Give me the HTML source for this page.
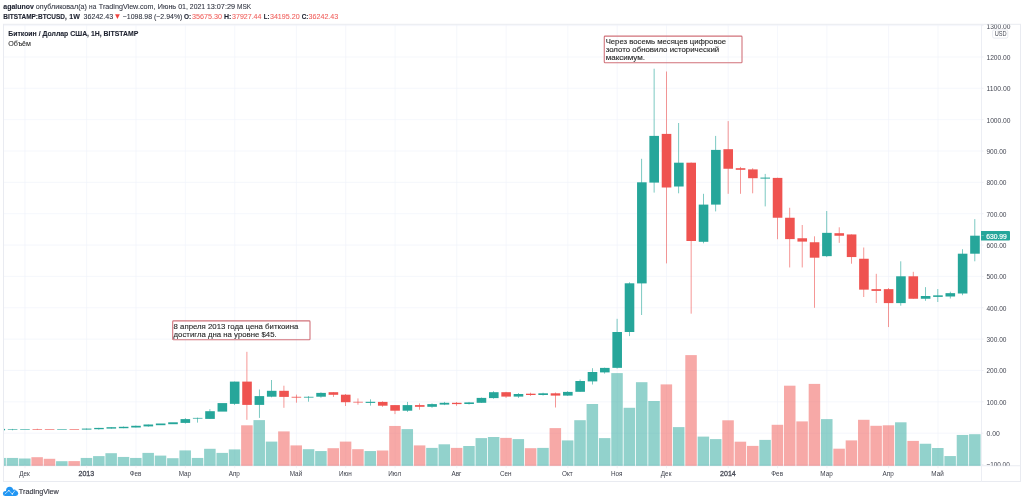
<!DOCTYPE html>
<html lang="ru"><head><meta charset="utf-8"><title>BTCUSD</title>
<style>html,body{margin:0;padding:0;background:#fff;}body{width:1024px;height:502px;overflow:hidden;}svg{display:block;font-family:"Liberation Sans",sans-serif;}</style></head><body>
<svg width="1024" height="502" viewBox="0 0 1024 502">
<defs><clipPath id="pane"><rect x="3.80" y="24.30" width="977.70" height="441.65"/></clipPath>
<clipPath id="axis"><rect x="981.50" y="24.60" width="39.00" height="441.15"/></clipPath></defs>
<rect width="1024" height="502" fill="#fff"/>
<g stroke="#f0f3fa" stroke-width="0.68" fill="none">
<line x1="3.50" y1="464.51" x2="981.50" y2="464.51"/>
<line x1="3.50" y1="433.16" x2="981.50" y2="433.16"/>
<line x1="3.50" y1="401.81" x2="981.50" y2="401.81"/>
<line x1="3.50" y1="370.46" x2="981.50" y2="370.46"/>
<line x1="3.50" y1="339.11" x2="981.50" y2="339.11"/>
<line x1="3.50" y1="307.76" x2="981.50" y2="307.76"/>
<line x1="3.50" y1="276.41" x2="981.50" y2="276.41"/>
<line x1="3.50" y1="245.06" x2="981.50" y2="245.06"/>
<line x1="3.50" y1="213.71" x2="981.50" y2="213.71"/>
<line x1="3.50" y1="182.36" x2="981.50" y2="182.36"/>
<line x1="3.50" y1="151.01" x2="981.50" y2="151.01"/>
<line x1="3.50" y1="119.66" x2="981.50" y2="119.66"/>
<line x1="3.50" y1="88.31" x2="981.50" y2="88.31"/>
<line x1="3.50" y1="56.96" x2="981.50" y2="56.96"/>
<line x1="3.50" y1="25.61" x2="981.50" y2="25.61"/>
<line x1="24.95" y1="24.30" x2="24.95" y2="465.75"/>
<line x1="86.64" y1="24.30" x2="86.64" y2="465.75"/>
<line x1="135.99" y1="24.30" x2="135.99" y2="465.75"/>
<line x1="185.34" y1="24.30" x2="185.34" y2="465.75"/>
<line x1="234.69" y1="24.30" x2="234.69" y2="465.75"/>
<line x1="296.38" y1="24.30" x2="296.38" y2="465.75"/>
<line x1="345.73" y1="24.30" x2="345.73" y2="465.75"/>
<line x1="395.09" y1="24.30" x2="395.09" y2="465.75"/>
<line x1="456.78" y1="24.30" x2="456.78" y2="465.75"/>
<line x1="506.13" y1="24.30" x2="506.13" y2="465.75"/>
<line x1="567.82" y1="24.30" x2="567.82" y2="465.75"/>
<line x1="617.17" y1="24.30" x2="617.17" y2="465.75"/>
<line x1="666.52" y1="24.30" x2="666.52" y2="465.75"/>
<line x1="728.21" y1="24.30" x2="728.21" y2="465.75"/>
<line x1="777.56" y1="24.30" x2="777.56" y2="465.75"/>
<line x1="826.92" y1="24.30" x2="826.92" y2="465.75"/>
<line x1="888.61" y1="24.30" x2="888.61" y2="465.75"/>
<line x1="937.96" y1="24.30" x2="937.96" y2="465.75"/>
</g>
<line x1="3.50" y1="465.75" x2="1020.50" y2="465.75" stroke="#e9ebf1" stroke-width="1"/>
<g clip-path="url(#pane)" fill-opacity="0.5">
<rect x="-5.63" y="457.95" width="11.5" height="7.85" fill="#26a69a"/>
<rect x="6.71" y="457.95" width="11.5" height="7.85" fill="#26a69a"/>
<rect x="19.05" y="458.50" width="11.5" height="7.30" fill="#26a69a"/>
<rect x="31.38" y="457.20" width="11.5" height="8.60" fill="#ef5350"/>
<rect x="43.72" y="458.80" width="11.5" height="7.00" fill="#ef5350"/>
<rect x="56.06" y="461.20" width="11.5" height="4.60" fill="#26a69a"/>
<rect x="68.40" y="461.10" width="11.5" height="4.70" fill="#ef5350"/>
<rect x="80.74" y="457.95" width="11.5" height="7.85" fill="#26a69a"/>
<rect x="93.07" y="456.10" width="11.5" height="9.70" fill="#26a69a"/>
<rect x="105.41" y="453.20" width="11.5" height="12.60" fill="#26a69a"/>
<rect x="117.75" y="456.95" width="11.5" height="8.85" fill="#26a69a"/>
<rect x="130.09" y="457.95" width="11.5" height="7.85" fill="#26a69a"/>
<rect x="142.43" y="452.90" width="11.5" height="12.90" fill="#26a69a"/>
<rect x="154.76" y="455.60" width="11.5" height="10.20" fill="#26a69a"/>
<rect x="167.10" y="458.20" width="11.5" height="7.60" fill="#26a69a"/>
<rect x="179.44" y="450.40" width="11.5" height="15.40" fill="#26a69a"/>
<rect x="191.78" y="457.95" width="11.5" height="7.85" fill="#26a69a"/>
<rect x="204.12" y="448.80" width="11.5" height="17.00" fill="#26a69a"/>
<rect x="216.45" y="452.90" width="11.5" height="12.90" fill="#26a69a"/>
<rect x="228.79" y="449.40" width="11.5" height="16.40" fill="#26a69a"/>
<rect x="241.13" y="425.30" width="11.5" height="40.50" fill="#ef5350"/>
<rect x="253.47" y="420.10" width="11.5" height="45.70" fill="#26a69a"/>
<rect x="265.81" y="441.60" width="11.5" height="24.20" fill="#26a69a"/>
<rect x="278.14" y="431.40" width="11.5" height="34.40" fill="#ef5350"/>
<rect x="290.48" y="445.40" width="11.5" height="20.40" fill="#ef5350"/>
<rect x="302.82" y="449.20" width="11.5" height="16.60" fill="#26a69a"/>
<rect x="315.16" y="451.05" width="11.5" height="14.75" fill="#26a69a"/>
<rect x="327.50" y="448.20" width="11.5" height="17.60" fill="#ef5350"/>
<rect x="339.83" y="441.60" width="11.5" height="24.20" fill="#ef5350"/>
<rect x="352.17" y="449.20" width="11.5" height="16.60" fill="#ef5350"/>
<rect x="364.51" y="451.05" width="11.5" height="14.75" fill="#26a69a"/>
<rect x="376.85" y="450.50" width="11.5" height="15.30" fill="#ef5350"/>
<rect x="389.19" y="425.96" width="11.5" height="39.84" fill="#ef5350"/>
<rect x="401.52" y="429.10" width="11.5" height="36.70" fill="#26a69a"/>
<rect x="413.86" y="445.40" width="11.5" height="20.40" fill="#ef5350"/>
<rect x="426.20" y="447.90" width="11.5" height="17.90" fill="#26a69a"/>
<rect x="438.54" y="444.30" width="11.5" height="21.50" fill="#26a69a"/>
<rect x="450.88" y="447.90" width="11.5" height="17.90" fill="#ef5350"/>
<rect x="463.21" y="446.00" width="11.5" height="19.80" fill="#26a69a"/>
<rect x="475.55" y="438.10" width="11.5" height="27.70" fill="#26a69a"/>
<rect x="487.89" y="437.00" width="11.5" height="28.80" fill="#26a69a"/>
<rect x="500.23" y="437.90" width="11.5" height="27.90" fill="#ef5350"/>
<rect x="512.57" y="439.10" width="11.5" height="26.70" fill="#26a69a"/>
<rect x="524.90" y="448.20" width="11.5" height="17.60" fill="#ef5350"/>
<rect x="537.24" y="447.90" width="11.5" height="17.90" fill="#26a69a"/>
<rect x="549.58" y="428.10" width="11.5" height="37.70" fill="#ef5350"/>
<rect x="561.92" y="440.40" width="11.5" height="25.40" fill="#26a69a"/>
<rect x="574.26" y="420.20" width="11.5" height="45.60" fill="#26a69a"/>
<rect x="586.59" y="404.00" width="11.5" height="61.80" fill="#26a69a"/>
<rect x="598.93" y="438.10" width="11.5" height="27.70" fill="#26a69a"/>
<rect x="611.27" y="373.10" width="11.5" height="92.70" fill="#26a69a"/>
<rect x="623.61" y="407.80" width="11.5" height="58.00" fill="#26a69a"/>
<rect x="635.95" y="382.20" width="11.5" height="83.60" fill="#26a69a"/>
<rect x="648.28" y="401.00" width="11.5" height="64.80" fill="#26a69a"/>
<rect x="660.62" y="384.40" width="11.5" height="81.40" fill="#ef5350"/>
<rect x="672.96" y="427.10" width="11.5" height="38.70" fill="#26a69a"/>
<rect x="685.30" y="355.10" width="11.5" height="110.70" fill="#ef5350"/>
<rect x="697.64" y="436.60" width="11.5" height="29.20" fill="#26a69a"/>
<rect x="709.97" y="439.10" width="11.5" height="26.70" fill="#26a69a"/>
<rect x="722.31" y="420.30" width="11.5" height="45.50" fill="#ef5350"/>
<rect x="734.65" y="441.70" width="11.5" height="24.10" fill="#ef5350"/>
<rect x="746.99" y="445.90" width="11.5" height="19.90" fill="#ef5350"/>
<rect x="759.33" y="439.90" width="11.5" height="25.90" fill="#26a69a"/>
<rect x="771.66" y="424.80" width="11.5" height="41.00" fill="#ef5350"/>
<rect x="784.00" y="385.70" width="11.5" height="80.10" fill="#ef5350"/>
<rect x="796.34" y="421.40" width="11.5" height="44.40" fill="#ef5350"/>
<rect x="808.68" y="383.90" width="11.5" height="81.90" fill="#ef5350"/>
<rect x="821.02" y="419.10" width="11.5" height="46.70" fill="#26a69a"/>
<rect x="833.35" y="448.70" width="11.5" height="17.10" fill="#ef5350"/>
<rect x="845.69" y="440.40" width="11.5" height="25.40" fill="#ef5350"/>
<rect x="858.03" y="419.80" width="11.5" height="46.00" fill="#ef5350"/>
<rect x="870.37" y="425.80" width="11.5" height="40.00" fill="#ef5350"/>
<rect x="882.71" y="425.30" width="11.5" height="40.50" fill="#ef5350"/>
<rect x="895.04" y="422.30" width="11.5" height="43.50" fill="#26a69a"/>
<rect x="907.38" y="440.90" width="11.5" height="24.90" fill="#ef5350"/>
<rect x="919.72" y="443.75" width="11.5" height="22.05" fill="#26a69a"/>
<rect x="932.06" y="448.00" width="11.5" height="17.80" fill="#26a69a"/>
<rect x="944.40" y="456.05" width="11.5" height="9.75" fill="#26a69a"/>
<rect x="956.73" y="434.95" width="11.5" height="30.85" fill="#26a69a"/>
<rect x="969.07" y="434.20" width="11.5" height="31.60" fill="#26a69a"/>
</g>
<g clip-path="url(#pane)">
<rect x="-4.53" y="428.90" width="9.6" height="1.40" fill="#26a69a"/>
<rect x="12.21" y="428.90" width="0.6" height="1.40" fill="#26a69a"/>
<rect x="7.81" y="429.20" width="9.6" height="0.60" fill="#26a69a"/>
<rect x="20.15" y="429.10" width="9.6" height="0.60" fill="#26a69a"/>
<rect x="36.88" y="428.70" width="0.6" height="1.10" fill="#ef5350"/>
<rect x="32.48" y="429.10" width="9.6" height="0.60" fill="#ef5350"/>
<rect x="44.82" y="429.10" width="9.6" height="0.60" fill="#ef5350"/>
<rect x="57.16" y="429.10" width="9.6" height="0.60" fill="#26a69a"/>
<rect x="69.50" y="429.10" width="9.6" height="0.60" fill="#ef5350"/>
<rect x="86.24" y="428.50" width="0.6" height="1.10" fill="#26a69a"/>
<rect x="81.84" y="428.60" width="9.6" height="1.00" fill="#26a69a"/>
<rect x="98.57" y="427.80" width="0.6" height="1.90" fill="#26a69a"/>
<rect x="94.17" y="427.90" width="9.6" height="1.30" fill="#26a69a"/>
<rect x="110.91" y="427.00" width="0.6" height="1.70" fill="#26a69a"/>
<rect x="106.51" y="427.20" width="9.6" height="1.40" fill="#26a69a"/>
<rect x="123.25" y="426.50" width="0.6" height="1.70" fill="#26a69a"/>
<rect x="118.85" y="426.80" width="9.6" height="1.40" fill="#26a69a"/>
<rect x="135.59" y="425.50" width="0.6" height="2.00" fill="#26a69a"/>
<rect x="131.19" y="425.80" width="9.6" height="1.70" fill="#26a69a"/>
<rect x="147.93" y="424.50" width="0.6" height="2.20" fill="#26a69a"/>
<rect x="143.53" y="424.50" width="9.6" height="1.90" fill="#26a69a"/>
<rect x="155.86" y="423.50" width="9.6" height="1.70" fill="#26a69a"/>
<rect x="168.20" y="422.30" width="9.6" height="1.90" fill="#26a69a"/>
<rect x="184.94" y="418.10" width="0.6" height="5.50" fill="#26a69a"/>
<rect x="180.54" y="419.10" width="9.6" height="3.80" fill="#26a69a"/>
<rect x="197.28" y="417.60" width="0.6" height="5.00" fill="#26a69a"/>
<rect x="192.88" y="417.90" width="9.6" height="0.70" fill="#26a69a"/>
<rect x="209.62" y="409.10" width="0.6" height="9.80" fill="#26a69a"/>
<rect x="205.22" y="411.20" width="9.6" height="7.70" fill="#26a69a"/>
<rect x="217.55" y="403.10" width="9.6" height="8.50" fill="#26a69a"/>
<rect x="234.29" y="381.60" width="0.6" height="23.30" fill="#26a69a"/>
<rect x="229.89" y="381.60" width="9.6" height="22.25" fill="#26a69a"/>
<rect x="246.63" y="351.80" width="0.6" height="68.00" fill="#ef5350"/>
<rect x="242.23" y="381.60" width="9.6" height="23.30" fill="#ef5350"/>
<rect x="258.97" y="389.50" width="0.6" height="28.40" fill="#26a69a"/>
<rect x="254.57" y="396.10" width="9.6" height="8.80" fill="#26a69a"/>
<rect x="271.31" y="380.00" width="0.6" height="17.30" fill="#26a69a"/>
<rect x="266.91" y="390.80" width="9.6" height="5.90" fill="#26a69a"/>
<rect x="283.64" y="385.70" width="0.6" height="22.10" fill="#ef5350"/>
<rect x="279.24" y="390.80" width="9.6" height="6.10" fill="#ef5350"/>
<rect x="295.98" y="394.60" width="0.6" height="8.10" fill="#ef5350"/>
<rect x="291.58" y="396.80" width="9.6" height="0.80" fill="#ef5350"/>
<rect x="308.32" y="396.10" width="0.6" height="5.60" fill="#26a69a"/>
<rect x="303.92" y="396.80" width="9.6" height="0.80" fill="#26a69a"/>
<rect x="320.66" y="392.30" width="0.6" height="5.40" fill="#26a69a"/>
<rect x="316.26" y="392.90" width="9.6" height="3.80" fill="#26a69a"/>
<rect x="333.00" y="392.20" width="0.6" height="4.70" fill="#ef5350"/>
<rect x="328.60" y="392.20" width="9.6" height="2.60" fill="#ef5350"/>
<rect x="345.33" y="394.00" width="0.6" height="12.00" fill="#ef5350"/>
<rect x="340.93" y="394.70" width="9.6" height="7.50" fill="#ef5350"/>
<rect x="357.67" y="398.40" width="0.6" height="6.30" fill="#ef5350"/>
<rect x="353.27" y="401.80" width="9.6" height="0.70" fill="#ef5350"/>
<rect x="370.01" y="399.30" width="0.6" height="6.30" fill="#26a69a"/>
<rect x="365.61" y="401.80" width="9.6" height="1.10" fill="#26a69a"/>
<rect x="382.35" y="401.30" width="0.6" height="5.50" fill="#ef5350"/>
<rect x="377.95" y="401.90" width="9.6" height="3.80" fill="#ef5350"/>
<rect x="394.69" y="405.10" width="0.6" height="9.00" fill="#ef5350"/>
<rect x="390.29" y="405.10" width="9.6" height="5.60" fill="#ef5350"/>
<rect x="407.02" y="401.90" width="0.6" height="10.00" fill="#26a69a"/>
<rect x="402.62" y="405.10" width="9.6" height="5.60" fill="#26a69a"/>
<rect x="419.36" y="403.40" width="0.6" height="6.30" fill="#ef5350"/>
<rect x="414.96" y="405.10" width="9.6" height="1.70" fill="#ef5350"/>
<rect x="431.70" y="403.40" width="0.6" height="4.40" fill="#26a69a"/>
<rect x="427.30" y="404.10" width="9.6" height="2.70" fill="#26a69a"/>
<rect x="444.04" y="401.90" width="0.6" height="3.20" fill="#26a69a"/>
<rect x="439.64" y="402.80" width="9.6" height="1.80" fill="#26a69a"/>
<rect x="456.38" y="402.00" width="0.6" height="3.80" fill="#ef5350"/>
<rect x="451.98" y="402.80" width="9.6" height="1.30" fill="#ef5350"/>
<rect x="468.71" y="401.90" width="0.6" height="2.70" fill="#26a69a"/>
<rect x="464.31" y="402.40" width="9.6" height="1.60" fill="#26a69a"/>
<rect x="481.05" y="397.50" width="0.6" height="5.30" fill="#26a69a"/>
<rect x="476.65" y="397.90" width="9.6" height="4.90" fill="#26a69a"/>
<rect x="493.39" y="391.20" width="0.6" height="7.50" fill="#26a69a"/>
<rect x="488.99" y="392.20" width="9.6" height="5.90" fill="#26a69a"/>
<rect x="505.73" y="391.80" width="0.6" height="6.10" fill="#ef5350"/>
<rect x="501.33" y="392.20" width="9.6" height="4.40" fill="#ef5350"/>
<rect x="518.07" y="393.10" width="0.6" height="4.80" fill="#26a69a"/>
<rect x="513.67" y="394.00" width="9.6" height="2.60" fill="#26a69a"/>
<rect x="530.40" y="392.70" width="0.6" height="3.20" fill="#ef5350"/>
<rect x="526.00" y="393.70" width="9.6" height="1.30" fill="#ef5350"/>
<rect x="542.74" y="392.70" width="0.6" height="2.90" fill="#26a69a"/>
<rect x="538.34" y="393.30" width="9.6" height="1.70" fill="#26a69a"/>
<rect x="555.08" y="392.50" width="0.6" height="15.00" fill="#ef5350"/>
<rect x="550.68" y="393.30" width="9.6" height="2.30" fill="#ef5350"/>
<rect x="567.42" y="391.20" width="0.6" height="4.70" fill="#26a69a"/>
<rect x="563.02" y="391.90" width="9.6" height="3.70" fill="#26a69a"/>
<rect x="579.76" y="379.50" width="0.6" height="12.30" fill="#26a69a"/>
<rect x="575.36" y="381.00" width="9.6" height="10.80" fill="#26a69a"/>
<rect x="592.09" y="368.20" width="0.6" height="16.30" fill="#26a69a"/>
<rect x="587.69" y="372.00" width="9.6" height="9.40" fill="#26a69a"/>
<rect x="604.43" y="367.60" width="0.6" height="6.00" fill="#26a69a"/>
<rect x="600.03" y="367.90" width="9.6" height="4.50" fill="#26a69a"/>
<rect x="616.77" y="318.80" width="0.6" height="49.80" fill="#26a69a"/>
<rect x="612.37" y="332.00" width="9.6" height="35.85" fill="#26a69a"/>
<rect x="629.11" y="282.30" width="0.6" height="53.80" fill="#26a69a"/>
<rect x="624.71" y="283.30" width="9.6" height="48.70" fill="#26a69a"/>
<rect x="641.45" y="158.80" width="0.6" height="156.20" fill="#26a69a"/>
<rect x="637.05" y="182.30" width="9.6" height="101.10" fill="#26a69a"/>
<rect x="653.78" y="68.70" width="0.6" height="123.90" fill="#26a69a"/>
<rect x="649.38" y="135.90" width="9.6" height="46.70" fill="#26a69a"/>
<rect x="666.12" y="71.50" width="0.6" height="191.90" fill="#ef5350"/>
<rect x="661.72" y="133.90" width="9.6" height="53.60" fill="#ef5350"/>
<rect x="678.46" y="123.00" width="0.6" height="70.30" fill="#26a69a"/>
<rect x="674.06" y="162.70" width="9.6" height="23.80" fill="#26a69a"/>
<rect x="690.80" y="162.50" width="0.6" height="151.15" fill="#ef5350"/>
<rect x="686.40" y="162.70" width="9.6" height="78.30" fill="#ef5350"/>
<rect x="703.14" y="193.80" width="0.6" height="49.50" fill="#26a69a"/>
<rect x="698.74" y="204.60" width="9.6" height="37.20" fill="#26a69a"/>
<rect x="715.47" y="135.90" width="0.6" height="75.50" fill="#26a69a"/>
<rect x="711.07" y="149.90" width="9.6" height="54.70" fill="#26a69a"/>
<rect x="727.81" y="121.10" width="0.6" height="72.70" fill="#ef5350"/>
<rect x="723.41" y="149.20" width="9.6" height="19.55" fill="#ef5350"/>
<rect x="740.15" y="166.90" width="0.6" height="26.90" fill="#ef5350"/>
<rect x="735.75" y="168.20" width="9.6" height="1.60" fill="#ef5350"/>
<rect x="752.49" y="168.20" width="0.6" height="25.10" fill="#ef5350"/>
<rect x="748.09" y="169.40" width="9.6" height="8.80" fill="#ef5350"/>
<rect x="764.83" y="173.90" width="0.6" height="32.50" fill="#26a69a"/>
<rect x="760.43" y="177.60" width="9.6" height="1.00" fill="#26a69a"/>
<rect x="777.16" y="177.70" width="0.6" height="61.50" fill="#ef5350"/>
<rect x="772.76" y="177.90" width="9.6" height="39.85" fill="#ef5350"/>
<rect x="789.50" y="207.75" width="0.6" height="59.70" fill="#ef5350"/>
<rect x="785.10" y="217.75" width="9.6" height="21.35" fill="#ef5350"/>
<rect x="801.84" y="225.00" width="0.6" height="42.45" fill="#ef5350"/>
<rect x="797.44" y="238.25" width="9.6" height="3.35" fill="#ef5350"/>
<rect x="814.18" y="236.30" width="0.6" height="71.50" fill="#ef5350"/>
<rect x="809.78" y="242.25" width="9.6" height="15.45" fill="#ef5350"/>
<rect x="826.52" y="211.00" width="0.6" height="46.10" fill="#26a69a"/>
<rect x="822.12" y="232.85" width="9.6" height="23.30" fill="#26a69a"/>
<rect x="838.85" y="227.30" width="0.6" height="15.55" fill="#ef5350"/>
<rect x="834.45" y="233.20" width="9.6" height="2.55" fill="#ef5350"/>
<rect x="851.19" y="234.40" width="0.6" height="29.30" fill="#ef5350"/>
<rect x="846.79" y="234.45" width="9.6" height="22.60" fill="#ef5350"/>
<rect x="863.53" y="247.50" width="0.6" height="49.50" fill="#ef5350"/>
<rect x="859.13" y="258.75" width="9.6" height="30.90" fill="#ef5350"/>
<rect x="875.87" y="273.80" width="0.6" height="29.20" fill="#ef5350"/>
<rect x="871.47" y="289.15" width="9.6" height="1.75" fill="#ef5350"/>
<rect x="888.21" y="288.00" width="0.6" height="39.05" fill="#ef5350"/>
<rect x="883.81" y="289.15" width="9.6" height="13.95" fill="#ef5350"/>
<rect x="900.54" y="261.30" width="0.6" height="44.40" fill="#26a69a"/>
<rect x="896.14" y="276.30" width="9.6" height="26.80" fill="#26a69a"/>
<rect x="912.88" y="271.80" width="0.6" height="26.95" fill="#ef5350"/>
<rect x="908.48" y="276.30" width="9.6" height="22.45" fill="#ef5350"/>
<rect x="925.22" y="287.15" width="0.6" height="13.65" fill="#26a69a"/>
<rect x="920.82" y="296.00" width="9.6" height="2.75" fill="#26a69a"/>
<rect x="937.56" y="289.00" width="0.6" height="13.00" fill="#26a69a"/>
<rect x="933.16" y="295.35" width="9.6" height="1.55" fill="#26a69a"/>
<rect x="949.90" y="291.70" width="0.6" height="6.80" fill="#26a69a"/>
<rect x="945.50" y="293.15" width="9.6" height="3.35" fill="#26a69a"/>
<rect x="962.23" y="249.20" width="0.6" height="46.00" fill="#26a69a"/>
<rect x="957.83" y="253.70" width="9.6" height="39.80" fill="#26a69a"/>
<rect x="974.57" y="219.10" width="0.6" height="42.20" fill="#26a69a"/>
<rect x="970.17" y="235.70" width="9.6" height="18.00" fill="#26a69a"/>
</g>
<g stroke="#e9ebf1" stroke-width="1" fill="none">
<rect x="3.50" y="24.30" width="1017.00" height="457.20"/>
<line x1="981.50" y1="24.30" x2="981.50" y2="481.50" stroke="#eceef4"/>
</g>
<g clip-path="url(#axis)" fill="#464955">
<line x1="981.50" y1="464.51" x2="983.50" y2="464.51" stroke="#e9ebf1" stroke-width="0.75"/>
<text x="986.45" y="467.41" font-size="7.4" textLength="23.30" lengthAdjust="spacingAndGlyphs">−100.00</text>
<line x1="981.50" y1="433.16" x2="983.50" y2="433.16" stroke="#e9ebf1" stroke-width="0.75"/>
<text x="986.45" y="436.06" font-size="7.4" textLength="13.30" lengthAdjust="spacingAndGlyphs">0.00</text>
<line x1="981.50" y1="401.81" x2="983.50" y2="401.81" stroke="#e9ebf1" stroke-width="0.75"/>
<text x="986.45" y="404.71" font-size="7.4" textLength="20.00" lengthAdjust="spacingAndGlyphs">100.00</text>
<line x1="981.50" y1="370.46" x2="983.50" y2="370.46" stroke="#e9ebf1" stroke-width="0.75"/>
<text x="986.45" y="373.36" font-size="7.4" textLength="20.00" lengthAdjust="spacingAndGlyphs">200.00</text>
<line x1="981.50" y1="339.11" x2="983.50" y2="339.11" stroke="#e9ebf1" stroke-width="0.75"/>
<text x="986.45" y="342.01" font-size="7.4" textLength="20.00" lengthAdjust="spacingAndGlyphs">300.00</text>
<line x1="981.50" y1="307.76" x2="983.50" y2="307.76" stroke="#e9ebf1" stroke-width="0.75"/>
<text x="986.45" y="310.66" font-size="7.4" textLength="20.00" lengthAdjust="spacingAndGlyphs">400.00</text>
<line x1="981.50" y1="276.41" x2="983.50" y2="276.41" stroke="#e9ebf1" stroke-width="0.75"/>
<text x="986.45" y="279.31" font-size="7.4" textLength="20.00" lengthAdjust="spacingAndGlyphs">500.00</text>
<line x1="981.50" y1="245.06" x2="983.50" y2="245.06" stroke="#e9ebf1" stroke-width="0.75"/>
<text x="986.45" y="247.96" font-size="7.4" textLength="20.00" lengthAdjust="spacingAndGlyphs">600.00</text>
<line x1="981.50" y1="213.71" x2="983.50" y2="213.71" stroke="#e9ebf1" stroke-width="0.75"/>
<text x="986.45" y="216.61" font-size="7.4" textLength="20.00" lengthAdjust="spacingAndGlyphs">700.00</text>
<line x1="981.50" y1="182.36" x2="983.50" y2="182.36" stroke="#e9ebf1" stroke-width="0.75"/>
<text x="986.45" y="185.26" font-size="7.4" textLength="20.00" lengthAdjust="spacingAndGlyphs">800.00</text>
<line x1="981.50" y1="151.01" x2="983.50" y2="151.01" stroke="#e9ebf1" stroke-width="0.75"/>
<text x="986.45" y="153.91" font-size="7.4" textLength="20.00" lengthAdjust="spacingAndGlyphs">900.00</text>
<line x1="981.50" y1="119.66" x2="983.50" y2="119.66" stroke="#e9ebf1" stroke-width="0.75"/>
<text x="986.45" y="122.56" font-size="7.4" textLength="24.10" lengthAdjust="spacingAndGlyphs">1000.00</text>
<line x1="981.50" y1="88.31" x2="983.50" y2="88.31" stroke="#e9ebf1" stroke-width="0.75"/>
<text x="986.45" y="91.21" font-size="7.4" textLength="24.10" lengthAdjust="spacingAndGlyphs">1100.00</text>
<line x1="981.50" y1="56.96" x2="983.50" y2="56.96" stroke="#e9ebf1" stroke-width="0.75"/>
<text x="986.45" y="59.86" font-size="7.4" textLength="24.10" lengthAdjust="spacingAndGlyphs">1200.00</text>
<line x1="981.50" y1="25.61" x2="983.50" y2="25.61" stroke="#e9ebf1" stroke-width="0.75"/>
<text x="986.45" y="28.51" font-size="7.4" textLength="24.10" lengthAdjust="spacingAndGlyphs">1300.00</text>
</g>
<rect x="992.6" y="29.9" width="15.2" height="8.2" rx="1.5" fill="#fff" stroke="#e0e3eb" stroke-width="0.75"/>
<text x="994.75" y="36.10" font-size="6.5" textLength="11.90" lengthAdjust="spacingAndGlyphs" fill="#464955">USD</text>
<path d="M981 231.1 H1009 a1 1 0 0 1 1 1 V239.4 a1 1 0 0 1 -1 1 H981 Z" fill="#26a69a"/>
<rect x="981.6" y="235.45" width="2.1" height="0.55" fill="#fff" fill-opacity="0.6"/>
<text x="986.15" y="238.60" font-size="7.4" textLength="20.60" lengthAdjust="spacingAndGlyphs" fill="#fff" stroke="#fff" stroke-width="0.2">630.99</text>
<g fill="#464955">
<line x1="24.95" y1="465.75" x2="24.95" y2="468.25" stroke="#e9ebf1" stroke-width="0.75"/>
<text x="19.24" y="475.90" font-size="7.3" textLength="10.61" lengthAdjust="spacingAndGlyphs" fill="#3c3f4a">Дек</text>
<line x1="86.64" y1="465.75" x2="86.64" y2="468.25" stroke="#e9ebf1" stroke-width="0.75"/>
<text x="78.49" y="475.90" font-size="7.3" textLength="15.70" lengthAdjust="spacingAndGlyphs" fill="#464955" stroke="#464955" stroke-width="0.3">2013</text>
<line x1="135.99" y1="465.75" x2="135.99" y2="468.25" stroke="#e9ebf1" stroke-width="0.75"/>
<text x="129.72" y="475.90" font-size="7.3" textLength="11.73" lengthAdjust="spacingAndGlyphs" fill="#3c3f4a">Фев</text>
<line x1="185.34" y1="465.75" x2="185.34" y2="468.25" stroke="#e9ebf1" stroke-width="0.75"/>
<text x="178.73" y="475.90" font-size="7.3" textLength="12.43" lengthAdjust="spacingAndGlyphs" fill="#3c3f4a">Мар</text>
<line x1="234.69" y1="465.75" x2="234.69" y2="468.25" stroke="#e9ebf1" stroke-width="0.75"/>
<text x="228.69" y="475.90" font-size="7.3" textLength="11.21" lengthAdjust="spacingAndGlyphs" fill="#3c3f4a">Апр</text>
<line x1="296.38" y1="465.75" x2="296.38" y2="468.25" stroke="#e9ebf1" stroke-width="0.75"/>
<text x="289.76" y="475.90" font-size="7.3" textLength="12.44" lengthAdjust="spacingAndGlyphs" fill="#3c3f4a">Май</text>
<line x1="345.73" y1="465.75" x2="345.73" y2="468.25" stroke="#e9ebf1" stroke-width="0.75"/>
<text x="338.92" y="475.90" font-size="7.3" textLength="12.83" lengthAdjust="spacingAndGlyphs" fill="#3c3f4a">Июн</text>
<line x1="395.09" y1="465.75" x2="395.09" y2="468.25" stroke="#e9ebf1" stroke-width="0.75"/>
<text x="388.24" y="475.90" font-size="7.3" textLength="12.89" lengthAdjust="spacingAndGlyphs" fill="#3c3f4a">Июл</text>
<line x1="456.78" y1="465.75" x2="456.78" y2="468.25" stroke="#e9ebf1" stroke-width="0.75"/>
<text x="451.41" y="475.90" font-size="7.3" textLength="9.93" lengthAdjust="spacingAndGlyphs" fill="#3c3f4a">Авг</text>
<line x1="506.13" y1="465.75" x2="506.13" y2="468.25" stroke="#e9ebf1" stroke-width="0.75"/>
<text x="499.92" y="475.90" font-size="7.3" textLength="11.63" lengthAdjust="spacingAndGlyphs" fill="#3c3f4a">Сен</text>
<line x1="567.82" y1="465.75" x2="567.82" y2="468.25" stroke="#e9ebf1" stroke-width="0.75"/>
<text x="562.07" y="475.90" font-size="7.3" textLength="10.70" lengthAdjust="spacingAndGlyphs" fill="#3c3f4a">Окт</text>
<line x1="617.17" y1="465.75" x2="617.17" y2="468.25" stroke="#e9ebf1" stroke-width="0.75"/>
<text x="610.99" y="475.90" font-size="7.3" textLength="11.56" lengthAdjust="spacingAndGlyphs" fill="#3c3f4a">Ноя</text>
<line x1="666.52" y1="465.75" x2="666.52" y2="468.25" stroke="#e9ebf1" stroke-width="0.75"/>
<text x="660.82" y="475.90" font-size="7.3" textLength="10.61" lengthAdjust="spacingAndGlyphs" fill="#3c3f4a">Дек</text>
<line x1="728.21" y1="465.75" x2="728.21" y2="468.25" stroke="#e9ebf1" stroke-width="0.75"/>
<text x="720.06" y="475.90" font-size="7.3" textLength="15.70" lengthAdjust="spacingAndGlyphs" fill="#464955" stroke="#464955" stroke-width="0.3">2014</text>
<line x1="777.56" y1="465.75" x2="777.56" y2="468.25" stroke="#e9ebf1" stroke-width="0.75"/>
<text x="771.30" y="475.90" font-size="7.3" textLength="11.73" lengthAdjust="spacingAndGlyphs" fill="#3c3f4a">Фев</text>
<line x1="826.92" y1="465.75" x2="826.92" y2="468.25" stroke="#e9ebf1" stroke-width="0.75"/>
<text x="820.30" y="475.90" font-size="7.3" textLength="12.43" lengthAdjust="spacingAndGlyphs" fill="#3c3f4a">Мар</text>
<line x1="888.61" y1="465.75" x2="888.61" y2="468.25" stroke="#e9ebf1" stroke-width="0.75"/>
<text x="882.60" y="475.90" font-size="7.3" textLength="11.21" lengthAdjust="spacingAndGlyphs" fill="#3c3f4a">Апр</text>
<line x1="937.96" y1="465.75" x2="937.96" y2="468.25" stroke="#e9ebf1" stroke-width="0.75"/>
<text x="931.34" y="475.90" font-size="7.3" textLength="12.44" lengthAdjust="spacingAndGlyphs" fill="#3c3f4a">Май</text>
</g>
<g fill="#2a2a2a">
<text x="3.25" y="9.40" font-size="7.7" textLength="30.60" lengthAdjust="spacingAndGlyphs" font-weight="bold" fill="#1e2230" stroke="#1e2230" stroke-width="0.12">agalunov</text>
<text x="35.85" y="9.40" font-size="7.7" textLength="51.00" lengthAdjust="spacingAndGlyphs" fill="#2c303d" stroke="#2c303d" stroke-width="0.07">опубликовал(а)</text>
<text x="89.05" y="9.40" font-size="7.7" textLength="7.20" lengthAdjust="spacingAndGlyphs" fill="#2c303d" stroke="#2c303d" stroke-width="0.07">на</text>
<text x="98.85" y="9.40" font-size="7.7" textLength="56.60" lengthAdjust="spacingAndGlyphs" fill="#2c303d" stroke="#2c303d" stroke-width="0.07">TradingView.com,</text>
<text x="157.75" y="9.40" font-size="7.7" textLength="18.40" lengthAdjust="spacingAndGlyphs" fill="#2c303d" stroke="#2c303d" stroke-width="0.07">Июнь</text>
<text x="178.15" y="9.40" font-size="7.7" textLength="9.90" lengthAdjust="spacingAndGlyphs" fill="#2c303d" stroke="#2c303d" stroke-width="0.07">01,</text>
<text x="189.85" y="9.40" font-size="7.7" textLength="15.20" lengthAdjust="spacingAndGlyphs" fill="#2c303d" stroke="#2c303d" stroke-width="0.07">2021</text>
<text x="206.65" y="9.40" font-size="7.7" textLength="28.40" lengthAdjust="spacingAndGlyphs" fill="#2c303d" stroke="#2c303d" stroke-width="0.07">13:07:29</text>
<text x="237.05" y="9.40" font-size="7.7" textLength="14.10" lengthAdjust="spacingAndGlyphs" fill="#2c303d" stroke="#2c303d" stroke-width="0.07">MSK</text>
<text x="3.25" y="18.80" font-size="7.7" textLength="63.50" lengthAdjust="spacingAndGlyphs" font-weight="bold" fill="#1e2230" stroke="#1e2230" stroke-width="0.12">BITSTAMP:BTCUSD,</text>
<text x="69.35" y="18.80" font-size="7.7" textLength="10.60" lengthAdjust="spacingAndGlyphs" font-weight="bold" fill="#1e2230" stroke="#1e2230" stroke-width="0.12">1W</text>
<text x="83.55" y="18.80" font-size="7.7" textLength="29.60" lengthAdjust="spacingAndGlyphs" fill="#2c303d" stroke="#2c303d" stroke-width="0.07">36242.43</text>
<text x="122.75" y="18.80" font-size="7.7" textLength="29.30" lengthAdjust="spacingAndGlyphs" fill="#2c303d" stroke="#2c303d" stroke-width="0.07">−1098.98</text>
<text x="153.95" y="18.80" font-size="7.7" textLength="28.50" lengthAdjust="spacingAndGlyphs" fill="#2c303d" stroke="#2c303d" stroke-width="0.07">(−2.94%)</text>
<text x="184.05" y="18.80" font-size="7.7" textLength="7.20" lengthAdjust="spacingAndGlyphs" font-weight="bold" fill="#1e2230" stroke="#1e2230" stroke-width="0.12">O:</text>
<text x="191.95" y="18.80" font-size="7.7" textLength="30.00" lengthAdjust="spacingAndGlyphs" fill="#f0605d" stroke="#f0605d" stroke-width="0.07">35675.30</text>
<text x="223.95" y="18.80" font-size="7.7" textLength="7.40" lengthAdjust="spacingAndGlyphs" font-weight="bold" fill="#1e2230" stroke="#1e2230" stroke-width="0.12">H:</text>
<text x="232.05" y="18.80" font-size="7.7" textLength="29.40" lengthAdjust="spacingAndGlyphs" fill="#f0605d" stroke="#f0605d" stroke-width="0.07">37927.44</text>
<text x="263.85" y="18.80" font-size="7.7" textLength="5.70" lengthAdjust="spacingAndGlyphs" font-weight="bold" fill="#1e2230" stroke="#1e2230" stroke-width="0.12">L:</text>
<text x="269.95" y="18.80" font-size="7.7" textLength="29.70" lengthAdjust="spacingAndGlyphs" fill="#f0605d" stroke="#f0605d" stroke-width="0.07">34195.20</text>
<text x="301.65" y="18.80" font-size="7.7" textLength="6.60" lengthAdjust="spacingAndGlyphs" font-weight="bold" fill="#1e2230" stroke="#1e2230" stroke-width="0.12">C:</text>
<text x="308.55" y="18.80" font-size="7.7" textLength="29.70" lengthAdjust="spacingAndGlyphs" fill="#f0605d" stroke="#f0605d" stroke-width="0.07">36242.43</text>
<polygon points="115.1,14.2 119.8,14.2 117.45,19.0" fill="#ef4440"/>
</g>
<text x="8.25" y="36.10" font-size="7.0" textLength="130.00" lengthAdjust="spacingAndGlyphs" font-weight="bold" fill="#1e2230" stroke="#1e2230" stroke-width="0.1">Биткоин / Доллар США, 1Н, BITSTAMP</text>
<text x="8.25" y="45.80" font-size="7.2" textLength="22.70" lengthAdjust="spacingAndGlyphs" fill="#2a2a2a" stroke="#2a2a2a" stroke-width="0.07">Объём</text>
<rect x="172.7" y="320.85" width="137.3" height="18.95" rx="0.8" fill="none" stroke="#d1727a" stroke-width="1.08"/>
<g fill="#2a2a2a">
<text x="173.55" y="328.90" font-size="7.6" textLength="124.80" lengthAdjust="spacingAndGlyphs" stroke="#2a2a2a" stroke-width="0.12">8 апреля 2013 года цена биткоина</text>
<text x="173.55" y="336.70" font-size="7.6" textLength="103.10" lengthAdjust="spacingAndGlyphs" stroke="#2a2a2a" stroke-width="0.12">достигла дна на уровне $45.</text>
</g>
<rect x="604.27" y="36.1" width="137.73" height="26.7" rx="0.8" fill="none" stroke="#d1727a" stroke-width="1.08"/>
<g fill="#2a2a2a">
<text x="605.65" y="44.20" font-size="7.6" textLength="120.40" lengthAdjust="spacingAndGlyphs" stroke="#2a2a2a" stroke-width="0.12">Через восемь месяцев цифровое</text>
<text x="605.65" y="51.90" font-size="7.6" textLength="113.60" lengthAdjust="spacingAndGlyphs" stroke="#2a2a2a" stroke-width="0.12">золото обновило исторический</text>
<text x="605.65" y="59.50" font-size="7.6" textLength="39.40" lengthAdjust="spacingAndGlyphs" stroke="#2a2a2a" stroke-width="0.12">максимум.</text>
</g>
<g fill="#2196f3">
<circle cx="5.45" cy="493.5" r="2.5"/><circle cx="9.6" cy="490.3" r="3.5"/><circle cx="14.2" cy="492.1" r="2.6"/><circle cx="15.75" cy="493.55" r="2.45"/><rect x="5.4" y="492" width="10.4" height="4"/>
</g>
<path d="M5.1 493.8 L8.9 490.6 L12.3 494.0 L15.0 490.6" fill="none" stroke="#fff" stroke-width="0.6" stroke-linejoin="round" stroke-linecap="round"/>
<circle cx="8.9" cy="490.6" r="0.7" fill="#fff"/><circle cx="12.3" cy="494.0" r="0.7" fill="#fff"/>
<text x="18.85" y="494.20" font-size="7.5" textLength="40.00" lengthAdjust="spacingAndGlyphs" fill="#383a44" stroke="#383a44" stroke-width="0.15">TradingView</text>
</svg></body></html>
